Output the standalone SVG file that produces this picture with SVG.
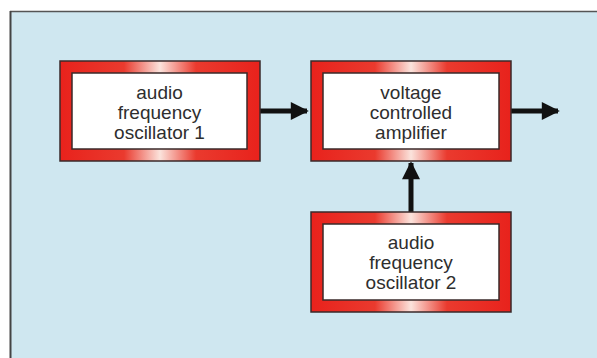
<svg xmlns="http://www.w3.org/2000/svg" width="597" height="358" viewBox="0 0 597 358">
  <defs>
    <linearGradient id="frame" x1="0" y1="0" x2="1" y2="0">
      <stop offset="0" stop-color="#e8221c"/>
      <stop offset="0.32" stop-color="#ea3a2e"/>
      <stop offset="0.5" stop-color="#fbe3dc"/>
      <stop offset="0.68" stop-color="#ea3a2e"/>
      <stop offset="1" stop-color="#e8221c"/>
    </linearGradient>
    <marker id="arrow" viewBox="0 0 10 10" refX="9" refY="5" markerWidth="4.6" markerHeight="3.6" orient="auto" markerUnits="strokeWidth">
      <path d="M0,0 L10,5 L0,10 Z" fill="#111"/>
    </marker>
  </defs>
  <style>
    .outer { fill: url(#frame); stroke: #3a2a2a; stroke-width: 1.5; }
    .inner { fill: #ffffff; stroke: #3a2a2a; stroke-width: 1.5; }
    .label { font-family: "Liberation Sans", Arial, sans-serif; font-size: 19px; fill: #2e2e2e; text-anchor: middle; }
    .conn { stroke: #111; stroke-width: 5; fill: none; marker-end: url(#arrow); }
  </style>
  <rect x="0" y="0" width="597" height="358" fill="#ffffff"/>
  <rect x="10" y="11" width="600" height="360" fill="#cfe7f0"/>
  <line x1="10" y1="11.5" x2="597" y2="11.5" stroke="#555" stroke-width="1.5"/>
  <line x1="10.5" y1="11" x2="10.5" y2="358" stroke="#444" stroke-width="2"/>

  <g id="connectors">
    <line class="conn" x1="260" y1="111" x2="307" y2="111"/>
    <line class="conn" x1="511" y1="111" x2="558" y2="111"/>
    <line class="conn" x1="411" y1="212" x2="411" y2="163"/>
  </g>

  <g id="afo1">
    <rect class="outer" x="60" y="61" width="200" height="100"/>
    <rect class="inner" x="72" y="73" width="175" height="76"/>
    <text class="label" x="159.5" y="99">audio</text>
    <text class="label" x="159.5" y="119">frequency</text>
    <text class="label" x="159.5" y="139">oscillator 1</text>
  </g>

  <g id="vca">
    <rect class="outer" x="311" y="61" width="200" height="100"/>
    <rect class="inner" x="323" y="73" width="176" height="76"/>
    <text class="label" x="411" y="99">voltage</text>
    <text class="label" x="411" y="119">controlled</text>
    <text class="label" x="411" y="139">amplifier</text>
  </g>

  <g id="afo2">
    <rect class="outer" x="311" y="212" width="200" height="100"/>
    <rect class="inner" x="323" y="224" width="176" height="76"/>
    <text class="label" x="411" y="249">audio</text>
    <text class="label" x="411" y="269">frequency</text>
    <text class="label" x="411" y="289">oscillator 2</text>
  </g>
</svg>
